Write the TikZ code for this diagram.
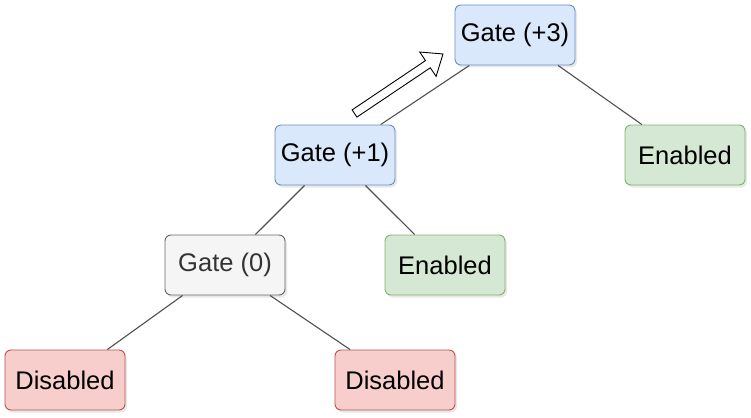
\documentclass[tikz,border=0pt]{standalone}
\usepackage{fontspec}
\setmainfont{Liberation Sans}
\usetikzlibrary{shadows}
\definecolor{bluef}{HTML}{DAE8FC}\definecolor{blued}{HTML}{6C8EBF}
\definecolor{greenf}{HTML}{D5E8D4}\definecolor{greend}{HTML}{82B366}
\definecolor{redf}{HTML}{F8CECC}\definecolor{redd}{HTML}{B85450}
\definecolor{greyf}{HTML}{F5F5F5}\definecolor{greyd}{HTML}{666666}
\definecolor{greyt}{HTML}{333333}
\definecolor{edgec}{HTML}{505050}
\begin{document}
\begin{tikzpicture}[x=1pt,y=-1pt,
  box/.style={rounded corners=6pt, minimum width=120pt, minimum height=60pt, inner sep=0pt,
    line width=0.9pt, font=\fontsize{25.5}{30}\selectfont,
    drop shadow={shadow xshift=2pt, shadow yshift=-2.5pt, opacity=0.18}},
  gateb/.style={box, fill=bluef, draw=blued},
  gateg/.style={box, fill=greyf, draw=greyd, text=greyt},
  enab/.style={box, fill=greenf, draw=greend},
  disab/.style={box, fill=redf, draw=redd},
  edge/.style={draw=edgec, line width=1.1pt}]
\useasboundingbox[fill=white] (0,0) rectangle (751,417);
\node[gateb] (g3) at (515,35) {Gate (+3)};
\node[gateb] (g1) at (335,155) {Gate (+1)};
\node[enab] (e1) at (685,155) {Enabled};
\node[gateg] (g0) at (225,265) {Gate (0)};
\node[enab] (e2) at (445,265) {Enabled};
\node[disab] (d1) at (65,380) {Disabled};
\node[disab] (d2) at (395,380) {Disabled};
\draw[edge] (g3) -- (g1);
\draw[edge] (g3) -- (e1);
\draw[edge] (g1) -- (g0);
\draw[edge] (g1) -- (e2);
\draw[edge] (g0) -- (d1);
\draw[edge] (g0) -- (d2);
\draw[fill=white, line width=0.9pt, line join=miter]
  (356.9,117.1) -- (430.3,67.8) -- (436.1,76.4) -- (443,54) -- (419.7,52.0)
  -- (425.5,60.6) -- (352.1,109.9) -- cycle;
\end{tikzpicture}
\end{document}
